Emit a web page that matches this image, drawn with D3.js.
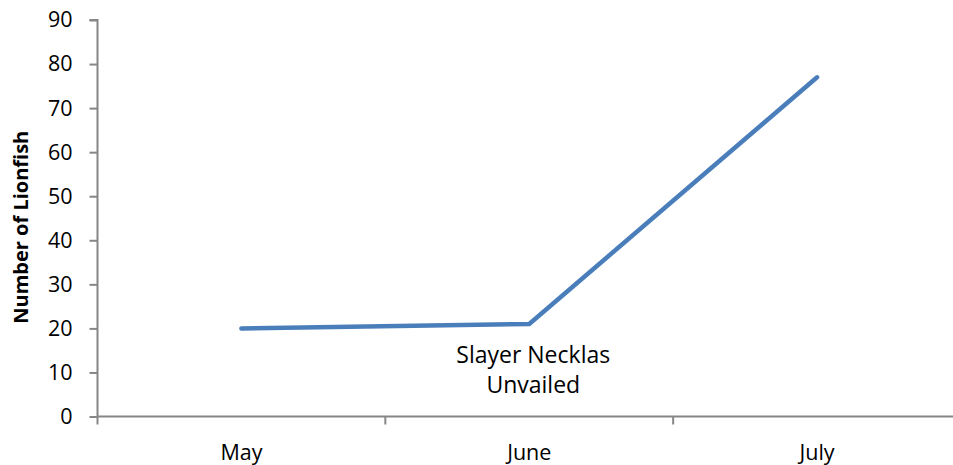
<!DOCTYPE html>
<html><head><meta charset="utf-8">
<script src="https://cdn.jsdelivr.net/npm/d3@7"></script>
<style>body{margin:0;background:#fff}svg{display:block}text{font-family:"Open Sans",sans-serif}</style>
</head><body>
<svg id="c" width="953" height="465"></svg>
<script>
const categories = ["May","June","July"];
const values = [20,21,77];
const yTicks = [0,10,20,30,40,50,60,70,80,90];
const yTitle = "Number of Lionfish";
const annotation = ["Slayer Necklas","Unvailed"];

(function(){
const svg = d3.select("#c");
const pL = 97.5, pR = 961, pT = 20, pB = 416.5;
const x = d3.scaleBand().domain(categories).range([pL,pR]);
const y = d3.scaleLinear().domain([0,90]).range([pB,pT]);
const axisColor = "#868686";

// y axis
const ya = svg.append("g").attr("transform",`translate(${pL},0)`)
  .call(d3.axisLeft(y).tickValues(yTicks).tickSize(8).tickPadding(17).tickFormat(d3.format("d")));
ya.select(".domain").attr("stroke",axisColor).attr("stroke-width",2).attr("d",`M-8,${pT}H0V${pB}`);
ya.selectAll(".tick line").attr("stroke",axisColor).attr("stroke-width",2);
ya.selectAll(".tick text").attr("font-size",21.5).attr("fill","#000");

// x axis
const xa = svg.append("g").attr("transform",`translate(0,${pB})`);
xa.append("line").attr("x1",pL).attr("x2",953).attr("stroke",axisColor).attr("stroke-width",2);
const bounds = categories.map(c=>x(c)).concat([pR]);
xa.selectAll("line.t").data(bounds).join("line").attr("class","t")
  .attr("x1",d=>d).attr("x2",d=>d).attr("y1",0).attr("y2",8).attr("stroke",axisColor).attr("stroke-width",2);
xa.selectAll("text").data(categories).join("text")
  .attr("x",d=>x(d)+x.bandwidth()/2).attr("y",43.5).attr("text-anchor","middle")
  .attr("font-size",21.5).attr("fill","#000").text(d=>d);

// y title
svg.append("text").attr("transform",`translate(28,${(pT+pB)/2+9}) rotate(-90)`)
  .attr("text-anchor","middle").attr("font-size",20).attr("font-weight","bold").text(yTitle);

// line
const line = d3.line().x((d,i)=>x(categories[i])+x.bandwidth()/2).y(d=>y(d));
svg.append("path").datum(values).attr("d",line).attr("fill","none")
  .attr("stroke","#4a7ebb").attr("stroke-width",4.5).attr("stroke-linecap","round").attr("stroke-linejoin","miter");

// annotation
const ax = x("June")+x.bandwidth()/2+4;
svg.selectAll("text.ann").data(annotation).join("text").attr("class","ann")
  .attr("x",ax).attr("y",(d,i)=>363+i*30).attr("text-anchor","middle").attr("font-size",23).text(d=>d);
})();
</script>
</body></html>
